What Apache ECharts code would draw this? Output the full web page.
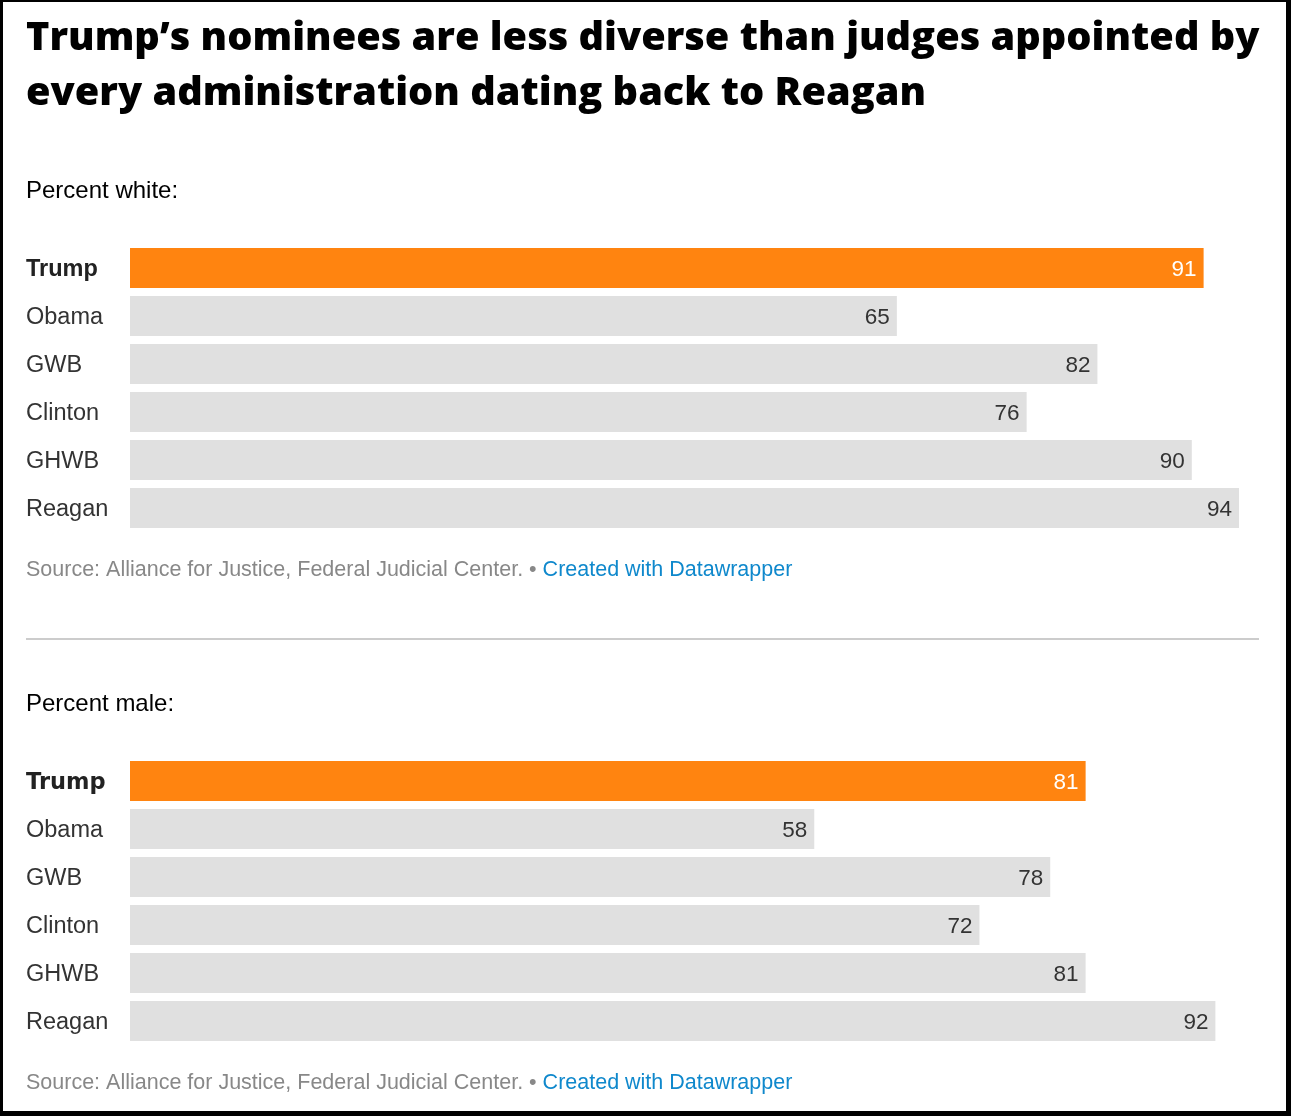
<!DOCTYPE html>
<html>
<head>
<meta charset="utf-8">
<script src="https://cdn.jsdelivr.net/npm/echarts@6/dist/echarts.min.js"></script>
<style>
html,body{margin:0;padding:0;background:#fff;}
#c{width:1291px;height:1116px;}
</style>
</head>
<body>
<div id="c"></div>
<script>
const categories = ['Trump', 'Obama', 'GWB', 'Clinton', 'GHWB', 'Reagan'];
const percentWhite = [91, 65, 82, 76, 90, 94];
const percentMale = [81, 58, 78, 72, 81, 92];
const titleLines = ['Trump\u2019s nominees are less diverse than judges appointed by', 'every administration dating back to Reagan'];
const sourceText = 'Source: Alliance for Justice, Federal Judicial Center.';
const creditText = 'Created with Datawrapper';

const ORANGE = '#ff8410', GRAY = '#e0e0e0';
const SANS = "'Liberation Sans', Arial, sans-serif";
const TITLE_FONT = "'Open Sans', sans-serif";
const chart = echarts.init(document.getElementById('c'), null, {renderer: 'canvas'});

function barData(vals) {
  return vals.map((v, i) => ({
    value: v,
    itemStyle: {color: i === 0 ? ORANGE : GRAY},
    label: {color: i === 0 ? '#fff' : '#333'}
  }));
}
const grids = [{left: 130, right: 52, top: 244, height: 288}, {left: 130, right: 52, top: 757, height: 288}];
function yAxis(idx) {
  const boldFont = idx === 0 ? SANS : "'DejaVu Sans', sans-serif";
  return {
    type: 'category', gridIndex: idx, data: categories, inverse: true,
    axisLine: {show: false}, axisTick: {show: false},
    axisLabel: {
      margin: 104, align: 'left', fontFamily: SANS, fontSize: 23.5, color: '#333',
      padding: [4, 0, 0, 0],
      formatter: v => v === 'Trump' ? '{b|' + v + '}' : v,
      rich: {b: {fontWeight: 'bold', fontSize: idx === 0 ? 23.5 : 22.5, color: '#222', fontFamily: boldFont}}
    }
  };
}
function xAxis(idx) {
  return {type: 'value', gridIndex: idx, min: 0, max: 94, show: false, splitLine: {show: false}};
}
function series(idx, vals) {
  return {
    type: 'bar', xAxisIndex: idx, yAxisIndex: idx, data: barData(vals), barWidth: 40,
    silent: true, animation: false,
    label: {show: true, position: 'insideRight', distance: 7, offset: [0, 2], fontFamily: SANS, fontSize: 22.5}
  };
}
function textEl(x, y, text, style) {
  return {type: 'text', x: x, y: y, style: Object.assign({text: text, fill: '#000', fontFamily: SANS, fontSize: 24, verticalAlign: 'middle'}, style)};
}
function sourceEl(y) {
  return {type: 'text', x: 26, y: y, style: {
    text: '{s|' + sourceText + ' \u2022 }{c|' + creditText + '}',
    verticalAlign: 'middle',
    rich: {
      s: {fill: '#888', fontFamily: SANS, fontSize: 21.5},
      c: {fill: '#0f88cc', fontFamily: SANS, fontSize: 21.5}
    }
  }};
}
chart.setOption({
  animation: false,
  grid: grids,
  xAxis: [xAxis(0), xAxis(1)],
  yAxis: [yAxis(0), yAxis(1)],
  series: [series(0, percentWhite), series(1, percentMale)],
  graphic: [
    {type: 'text', x: 26, y: 19, style: {text: titleLines[0], fontFamily: TITLE_FONT, fontWeight: 800, fontSize: 39.7, fill: '#000'}},
    {type: 'text', x: 26, y: 74, style: {text: titleLines[1], fontFamily: TITLE_FONT, fontWeight: 800, fontSize: 39.7, fill: '#000'}},
    textEl(26, 191, 'Percent white:'),
    textEl(26, 704, 'Percent male:'),
    sourceEl(570),
    sourceEl(1083),
    {type: 'rect', shape: {x: 26, y: 638, width: 1233, height: 2}, style: {fill: '#cccccc'}},
    {type: 'rect', shape: {x: 0, y: 0, width: 3, height: 1116}, style: {fill: '#000'}},
    {type: 'rect', shape: {x: 0, y: 0, width: 1291, height: 2}, style: {fill: '#000'}},
    {type: 'rect', shape: {x: 1286, y: 0, width: 5, height: 1116}, style: {fill: '#000'}},
    {type: 'rect', shape: {x: 0, y: 1111, width: 1291, height: 5}, style: {fill: '#000'}}
  ]
});
</script>
</body>
</html>
